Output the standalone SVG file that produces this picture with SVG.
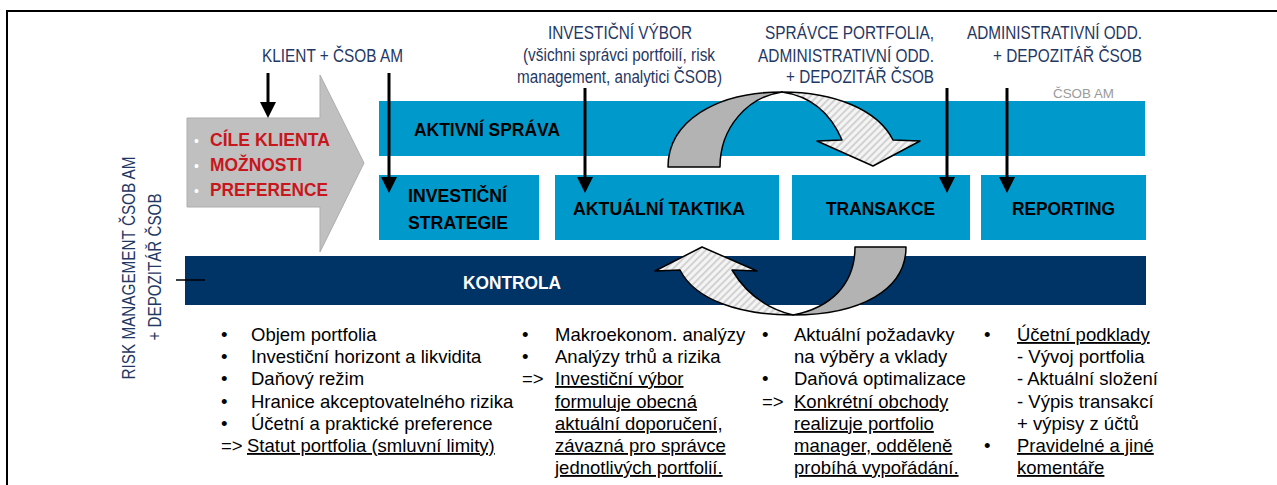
<svg xmlns="http://www.w3.org/2000/svg" width="1277" height="485" viewBox="0 0 1277 485">
<defs>
<style>
.hdr{font-family:"Liberation Sans",Arial,sans-serif;font-size:17.5px;fill:#1f3864}
.lbl{font-family:"Liberation Sans",Arial,sans-serif;font-size:19px;font-weight:bold;fill:#000}
.wlbl{font-family:"Liberation Sans",Arial,sans-serif;font-size:19px;font-weight:bold;fill:#fff}
.red{font-family:"Liberation Sans",Arial,sans-serif;font-size:19px;font-weight:bold;fill:#c8161d}
.body{font-family:"Liberation Sans",Arial,sans-serif;font-size:18.5px;fill:#000}
.u{text-decoration:underline}
.blue{fill:#0099cc}
.navy{fill:#003366}
.conn{stroke:#000;stroke-width:3;fill:none;marker-end:url(#ah)}
.curve{stroke:#000;stroke-width:1.5;stroke-linejoin:round}
</style>
<pattern id="hatch" width="5" height="5" patternUnits="userSpaceOnUse" patternTransform="rotate(45)">
<rect width="5" height="5" fill="#f4f4f4"/>
<rect width="2" height="5" fill="#d2d2d2"/>
</pattern>
<marker id="ah" viewBox="0 0 16 16" markerWidth="16" markerHeight="16" refX="6" refY="8" orient="auto" markerUnits="userSpaceOnUse">
<path d="M0,0 L16,8 L0,16 Z" fill="#000"/>
</marker>
</defs>
<rect width="1277" height="485" fill="#fff"/>
<g id="frame">
<line x1="6" y1="11" x2="1277" y2="11" stroke="#000" stroke-width="2"/>
<line x1="7" y1="10" x2="7" y2="485" stroke="#000" stroke-width="2"/>
</g>

<g id="headers">
<text class="hdr" x="262" y="62" textLength="141" lengthAdjust="spacingAndGlyphs">KLIENT + ČSOB AM</text>
<text class="hdr" x="548" y="39" textLength="144" lengthAdjust="spacingAndGlyphs">INVESTIČNÍ VÝBOR</text>
<text class="hdr" x="523" y="61" textLength="192" lengthAdjust="spacingAndGlyphs">(všichni správci portfoilí, risk</text>
<text class="hdr" x="517" y="83" textLength="205" lengthAdjust="spacingAndGlyphs">management, analytici ČSOB)</text>
<text class="hdr" x="765" y="39" textLength="169" lengthAdjust="spacingAndGlyphs">SPRÁVCE PORTFOLIA,</text>
<text class="hdr" x="758" y="62" textLength="176" lengthAdjust="spacingAndGlyphs">ADMINISTRATIVNÍ ODD.</text>
<text class="hdr" x="786" y="83" textLength="148" lengthAdjust="spacingAndGlyphs">+ DEPOZITÁŘ ČSOB</text>
<text class="hdr" x="967" y="39" textLength="175" lengthAdjust="spacingAndGlyphs">ADMINISTRATIVNÍ ODD.</text>
<text class="hdr" x="993" y="62" textLength="149" lengthAdjust="spacingAndGlyphs">+ DEPOZITÁŘ ČSOB</text>
<text x="1053" y="98" font-family="Liberation Sans,Arial,sans-serif" font-size="13.5" fill="#9a9a9a" textLength="61" lengthAdjust="spacingAndGlyphs">ČSOB AM</text>
<text class="hdr" transform="translate(135,268) rotate(-90)" text-anchor="middle" textLength="223" lengthAdjust="spacingAndGlyphs">RISK MANAGEMENT ČSOB AM</text>
<text class="hdr" transform="translate(161,267) rotate(-90)" text-anchor="middle" textLength="147" lengthAdjust="spacingAndGlyphs">+ DEPOZITÁŘ ČSOB</text>
</g>

<g id="klient-arrow">
<polygon points="187,118 320,118 320,75 364,163 320,252 320,207 187,207" fill="#c0c0c0" stroke="#adadad" stroke-width="1"/>
<text x="194" y="146" font-family="Liberation Sans,Arial,sans-serif" font-size="14" fill="#fff">•</text>
<text x="194" y="171" font-family="Liberation Sans,Arial,sans-serif" font-size="14" fill="#fff">•</text>
<text x="194" y="196" font-family="Liberation Sans,Arial,sans-serif" font-size="14" fill="#fff">•</text>
<text class="red" x="210" y="146" textLength="120" lengthAdjust="spacingAndGlyphs">CÍLE KLIENTA</text>
<text class="red" x="210" y="171" textLength="92" lengthAdjust="spacingAndGlyphs">MOŽNOSTI</text>
<text class="red" x="210" y="196" textLength="118" lengthAdjust="spacingAndGlyphs">PREFERENCE</text>
</g>

<g id="aktivni-sprava">
<rect class="blue" x="379" y="101" width="766" height="55"/>
<text class="lbl" x="414" y="136" textLength="146" lengthAdjust="spacingAndGlyphs">AKTIVNÍ SPRÁVA</text>
</g>

<g id="investicni-strategie">
<rect class="blue" x="379" y="175" width="160" height="65"/>
<text class="lbl" x="408" y="202" textLength="99" lengthAdjust="spacingAndGlyphs">INVESTIČNÍ</text>
<text class="lbl" x="408" y="229" textLength="100" lengthAdjust="spacingAndGlyphs">STRATEGIE</text>
</g>

<g id="aktualni-taktika">
<rect class="blue" x="555" y="175" width="224" height="65"/>
<text class="lbl" x="573" y="215" textLength="172" lengthAdjust="spacingAndGlyphs">AKTUÁLNÍ TAKTIKA</text>
</g>

<g id="transakce">
<rect class="blue" x="792" y="175" width="178" height="65"/>
<text class="lbl" x="826" y="215" textLength="109" lengthAdjust="spacingAndGlyphs">TRANSAKCE</text>
</g>

<g id="reporting">
<rect class="blue" x="981" y="175" width="165" height="65"/>
<text class="lbl" x="1012" y="215" textLength="103" lengthAdjust="spacingAndGlyphs">REPORTING</text>
</g>

<g id="kontrola">
<rect class="navy" x="185" y="256" width="961" height="49"/>
<text class="wlbl" x="463" y="289" textLength="98" lengthAdjust="spacingAndGlyphs">KONTROLA</text>
</g>

<g id="cycle-arrows">
<path class="curve" fill="#b3b3b3" d="M668,167 C668,122 715,92 782,92 C748,97 720,127 720,167 Z"/>
<path class="curve" fill="url(#hatch)" d="M782,92 C835,92 878,110 893,140 L920,141 L873,166 L817,141 L842,140 C830,112 810,96 782,92 Z"/>
<path class="curve" fill="#b3b3b3" d="M855,247 L906,247 C906,290 860,315 793,315 C830,308 855,285 855,247 Z"/>
<path class="curve" fill="url(#hatch)" d="M793,315 C740,315 695,300 680,270 L655,271 L702,247 L757,271 L732,270 C745,292 765,308 793,315 Z"/>
</g>

<g id="connectors">
<line class="conn" x1="268" y1="73" x2="268" y2="108"/>
<line class="conn" x1="389" y1="73" x2="389" y2="183"/>
<line class="conn" x1="585" y1="88" x2="585" y2="183"/>
<line class="conn" x1="947" y1="88" x2="947" y2="183"/>
<line class="conn" x1="1007" y1="88" x2="1007" y2="183"/>
<line x1="176" y1="280" x2="205" y2="280" stroke="#000" stroke-width="1.5"/>
</g>

<g id="list-klient">
<text class="body" x="221" y="341">•</text>
<text class="body" x="251" y="341">Objem portfolia</text>
<text class="body" x="221" y="363">•</text>
<text class="body" x="251" y="363">Investiční horizont a likvidita</text>
<text class="body" x="221" y="385">•</text>
<text class="body" x="251" y="385">Daňový režim</text>
<text class="body" x="221" y="408">•</text>
<text class="body" x="251" y="408">Hranice akceptovatelného rizika</text>
<text class="body" x="221" y="430">•</text>
<text class="body" x="251" y="430">Účetní a praktické preference</text>
<text class="body" x="221" y="452">=&gt;</text>
<text class="body u" x="247" y="452">Statut portfolia (smluvní limity)</text>
</g>

<g id="list-taktika">
<text class="body" x="522" y="341">•</text>
<text class="body" x="555" y="341">Makroekonom. analýzy</text>
<text class="body" x="522" y="363">•</text>
<text class="body" x="555" y="363">Analýzy trhů a rizika</text>
<text class="body" x="522" y="385">=&gt;</text>
<text class="body u" x="555" y="385">Investiční výbor</text>
<text class="body u" x="555" y="408">formuluje obecná</text>
<text class="body u" x="555" y="430">aktuální doporučení,</text>
<text class="body u" x="555" y="452">závazná pro správce</text>
<text class="body u" x="555" y="474">jednotlivých portfolií.</text>
</g>

<g id="list-transakce">
<text class="body" x="762" y="341">•</text>
<text class="body" x="794" y="341">Aktuální požadavky</text>
<text class="body" x="794" y="363">na výběry a vklady</text>
<text class="body" x="762" y="385">•</text>
<text class="body" x="794" y="385">Daňová optimalizace</text>
<text class="body" x="762" y="408">=&gt;</text>
<text class="body u" x="794" y="408">Konkrétní obchody</text>
<text class="body u" x="794" y="430">realizuje portfolio</text>
<text class="body u" x="794" y="452">manager, odděleně</text>
<text class="body u" x="794" y="474">probíhá vypořádání.</text>
</g>

<g id="list-reporting">
<text class="body" x="984" y="341">•</text>
<text class="body u" x="1017" y="341">Účetní podklady</text>
<text class="body" x="1017" y="363">- Vývoj portfolia</text>
<text class="body" x="1017" y="385">- Aktuální složení</text>
<text class="body" x="1017" y="408">- Výpis transakcí</text>
<text class="body" x="1017" y="430">+ výpisy z účtů</text>
<text class="body" x="984" y="452">•</text>
<text class="body u" x="1017" y="452">Pravidelné a jiné</text>
<text class="body u" x="1017" y="474">komentáře</text>
</g>
</svg>
